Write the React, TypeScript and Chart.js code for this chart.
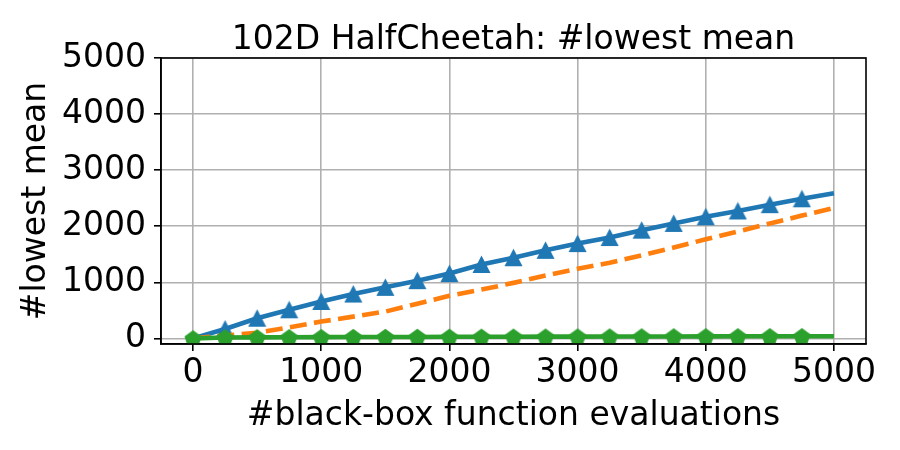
import React, { useEffect, useRef } from 'react';
import Chart from 'chart.js/auto';

const evals = [0, 250, 500, 750, 1000, 1250, 1500, 1750, 2000, 2250, 2500, 2750, 3000, 3250, 3500, 3750, 4000, 4250, 4500, 4750, 5000];
const blueMean = [0, 167, 360, 510, 658, 791, 910, 1030, 1156, 1318, 1439, 1570, 1691, 1799, 1930, 2050, 2169, 2272, 2385, 2490, 2590];
const orangeMean = [0, 50, 100, 198, 300, 388, 478, 617, 760, 870, 990, 1120, 1241, 1349, 1480, 1619, 1768, 1906, 2050, 2190, 2325];
const greenMean = [0, 15, 18, 20, 22, 24, 25, 26, 28, 29, 30, 31, 32, 33, 34, 35, 36, 37, 38, 38, 39];
const tickValues = [0, 1000, 2000, 3000, 4000, 5000];

const FONT = 'DejaVu Sans';

function triangleImage(color: string) {
  const c = document.createElement('canvas');
  c.width = 19;
  c.height = 19;
  const ctx = c.getContext('2d')!;
  ctx.fillStyle = color;
  ctx.beginPath();
  ctx.moveTo(9.5, 0.5);
  ctx.lineTo(18.5, 18);
  ctx.lineTo(0.5, 18);
  ctx.closePath();
  ctx.fill();
  return c;
}

function pentagonImage(color: string) {
  const c = document.createElement('canvas');
  c.width = 20;
  c.height = 20;
  const ctx = c.getContext('2d')!;
  ctx.fillStyle = color;
  ctx.beginPath();
  for (let i = 0; i < 5; i++) {
    const a = -Math.PI / 2 + (i * 2 * Math.PI) / 5;
    const px = 10 + Math.cos(a) * 9;
    const py = 10.7 + Math.sin(a) * 9;
    if (i === 0) ctx.moveTo(px, py);
    else ctx.lineTo(px, py);
  }
  ctx.closePath();
  ctx.fill();
  return c;
}

const frame = {
  id: 'frame',
  afterDatasetsDraw(chart: any) {
    const { ctx, chartArea } = chart;
    ctx.save();
    ctx.strokeStyle = '#000';
    ctx.lineWidth = 1.6;
    ctx.strokeRect(chartArea.left, chartArea.top, chartArea.right - chartArea.left, chartArea.bottom - chartArea.top);
    ctx.restore();
  },
};

const App: React.FC = () => {
  const chartRef = useRef<HTMLCanvasElement>(null);

  useEffect(() => {
    document.body.style.margin = '0';
    if (!chartRef.current) return;
    const tri = triangleImage('#1f77b4');
    const pent = pentagonImage('#2ca02c');
    const last = evals.length - 1;

    const chart = new Chart(chartRef.current, {
      type: 'line',
      data: {
        datasets: [
          {
            data: evals.map((x, i) => ({ x, y: blueMean[i] })),
            borderColor: '#1f77b4',
            backgroundColor: '#1f77b4',
            borderWidth: 4.6,
            pointStyle: tri as any,
            pointRadius: evals.map((_, i) => (i === 0 || i === last ? 0 : 9)),
            order: 3,
          },
          {
            data: evals.map((x, i) => ({ x, y: orangeMean[i] })),
            borderColor: '#ff7f0e',
            borderWidth: 4.6,
            borderDash: [17, 7.4],
            pointRadius: 0,
            order: 2,
          },
          {
            data: evals.map((x, i) => ({ x, y: greenMean[i] })),
            borderColor: '#2ca02c',
            backgroundColor: '#2ca02c',
            borderWidth: 4.6,
            pointStyle: pent as any,
            pointRadius: evals.map((_, i) => (i === last ? 0 : 9)),
            order: 1,
          },
        ],
      },
      options: {
        animation: false,
        responsive: false,
        layout: { padding: { right: 34 } },
        plugins: {
          legend: { display: false },
          tooltip: { enabled: false },
          title: {
            display: true,
            fullSize: false,
            text: '102D HalfCheetah: #lowest mean',
            color: '#000',
            font: { family: FONT, size: 33, weight: 'normal', lineHeight: 1 },
            padding: { top: 24, bottom: 1 },
          },
        },
        scales: {
          x: {
            type: 'linear',
            min: -250,
            max: 5250,
            afterBuildTicks: (scale: any) => {
              scale.ticks = tickValues.map((v) => ({ value: v }));
            },
            afterFit: (scale: any) => {
              scale.height = 106;
            },
            grid: { color: '#b0b0b0', lineWidth: 1.6, tickColor: '#000', tickWidth: 1.6, tickLength: 7 },
            border: { display: true, color: '#000', width: 1.6 },
            ticks: {
              color: '#000',
              font: { family: FONT, size: 33 },
              padding: 3,
              maxRotation: 0,
              callback: (v: any) => String(v),
            },
            title: {
              display: true,
              text: '#black-box function evaluations',
              color: '#000',
              font: { family: FONT, size: 33 },
              padding: { bottom: 14 },
            },
          },
          y: {
            type: 'linear',
            min: -100,
            max: 5000,
            afterBuildTicks: (scale: any) => {
              scale.ticks = tickValues.map((v) => ({ value: v }));
            },
            afterFit: (scale: any) => {
              scale.width = 161;
            },
            grid: { color: '#b0b0b0', lineWidth: 1.6, tickColor: '#000', tickWidth: 1.6, tickLength: 7 },
            border: { display: true, color: '#000', width: 1.6 },
            ticks: {
              color: '#000',
              font: { family: FONT, size: 33 },
              padding: 8,
              callback: (v: any) => String(v),
            },
            title: {
              display: true,
              text: '#lowest mean',
              color: '#000',
              font: { family: FONT, size: 33 },
              padding: { top: 17 },
            },
          },
        },
      },
      plugins: [frame],
    });

    return () => {
      chart.destroy();
    };
  }, []);

  return (
    <div style={{ width: 900, height: 450 }}>
      <canvas ref={chartRef} width={900} height={450} />
    </div>
  );
};

export default App;
